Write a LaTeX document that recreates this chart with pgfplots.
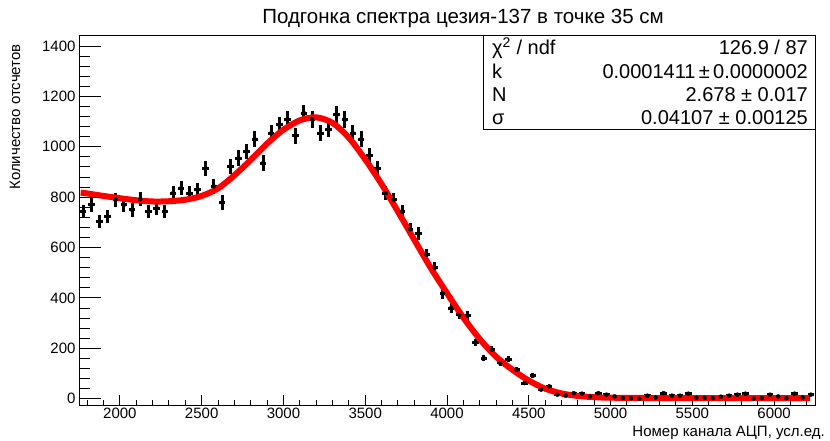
\documentclass[border=0pt]{standalone}
\usepackage{pgfplots}
\pgfplotsset{compat=1.18}
\usepackage{pgfplotstable}
\usepackage{fontspec}
\setmainfont{Liberation Sans}

\pgfplotstableread{
x y ey
1775 743 27.3
1825 770 27.7
1875 704 26.5
1925 723 26.9
1975 790 28.1
2025 770 27.7
2075 750 27.4
2125 792 28.1
2175 743 27.3
2225 757 27.5
2275 743 27.3
2325 816 28.6
2375 836 28.9
2425 816 28.6
2475 829 28.8
2525 915 30.2
2575 843 29.0
2625 779 27.9
2675 922 30.4
2725 955 30.9
2775 981 31.3
2825 1030 32.1
2875 935 30.6
2925 1054 32.5
2975 1087 33.0
3025 1110 33.3
3075 1044 32.3
3125 1134 33.7
3175 1110 33.3
3225 1054 32.5
3275 1070 32.7
3325 1127 33.6
3375 1107 33.3
3425 1054 32.5
3475 1030 32.1
3525 964 31.0
3575 915 30.2
3625 816 28.6
3675 790 28.1
3725 743 27.3
3775 673 25.9
3825 655 25.6
3875 571 23.9
3925 519 22.8
3975 417 20.4
4025 360 19.0
4075 333 18.2
4125 329 18.1
4175 223 14.9
4225 161 12.7
4275 194 13.9
4325 142 11.9
4375 157 12.5
4425 115 10.7
4475 62 7.9
4525 91 9.5
4575 36 6.0
4625 49 7.0
4675 16 4.0
4725 12 3.5
4775 22 4.7
4825 20 4.5
4875 9 3.0
4925 22 4.7
4975 16 4.0
5025 9 3.0
5075 3 1.7
5125 2 1.4
5175 0 0
5225 12 3.5
5275 5 2.2
5325 22 4.7
5375 12 3.5
5425 12 3.5
5475 20 4.5
5525 4 2.0
5575 3 1.7
5625 2 1.4
5675 8 2.8
5725 12 3.5
5775 16 4.0
5825 20 4.5
5875 0 0
5925 2 1.4
5975 16 4.0
6025 9 3.0
6075 2 1.4
6125 20 4.5
6175 5 2.2
6225 16 4.0
}\datatable

\pgfplotstableread{
x y
1760 818
1800 815
1900 805
2000 796
2100 788
2200 783
2300 784
2400 790
2500 805
2600 835
2700 887
2800 948
2900 1013
3000 1068
3100 1105
3200 1117
3300 1095
3400 1036
3500 950
3600 852
3700 743
3800 631
3900 520
4000 419
4100 322
4200 237
4300 167
4400 115
4500 72
4600 40
4700 21
4800 11
4900 6
5000 4
5200 3
5600 2
6000 2
6220 2
}\fittable

\begin{document}
\begin{tikzpicture}
\useasboundingbox (-79pt,-35pt) rectangle (751pt,405pt);
\begin{axis}[
  at={(0,0)}, anchor=south west,
  scale only axis, width=736pt, height=369pt,
  xmin=1750, xmax=6250, ymin=-25, ymax=1440,
  axis line style={line width=1pt},
  tick align=inside, tick pos=left,
  xtick={2000,2500,...,6000},
  minor xtick={1800,1900,...,6200},
  ytick=\empty,
  major tick length=10pt, minor tick length=5pt,
  tick style={black, line width=1pt},
  scaled ticks=false,
  /pgf/number format/assume math mode=true,
  /pgf/number format/1000 sep={},
  ticklabel style={font=\fontsize{15}{18}\selectfont},
  xticklabel style={yshift=1pt},
  clip=true,
]
\addplot[only marks, mark=none,
  error bars/.cd, x dir=both, x fixed=20, y dir=both, y explicit,
  error mark=none, error bar style={line width=3pt, black}]
  table[x=x, y=y, y error=ey] {\datatable};
\addplot[red, line width=6pt, smooth, tension=0.5] table[x=x, y=y] {\fittable};
\end{axis}
\begin{axis}[
  at={(0,0)}, anchor=south west,
  scale only axis, width=736pt, height=369pt,
  xmin=1750, xmax=6250, ymin=-25, ymax=1440,
  axis line style={line width=1pt},
  tick align=inside, tick pos=left,
  xtick=\empty,
  ytick={0,200,...,1400},
  minor ytick={40,80,...,1400},
  major tick length=22pt, minor tick length=11pt,
  tick style={black, line width=1pt},
  scaled ticks=false,
  /pgf/number format/assume math mode=true,
  /pgf/number format/1000 sep={},
  ticklabel style={font=\fontsize{15}{18}\selectfont},
]
\end{axis}
% title and axis labels
\node[anchor=base, inner sep=0, font=\fontsize{20.5}{24}\selectfont] at (384pt,381pt) {Подгонка спектра цезия-137 в точке 35 см};
\node[rotate=90, anchor=east, inner sep=0, font=\fontsize{15}{18}\selectfont] at (-64pt,361pt) {Количество отсчетов};
\node[anchor=base east, inner sep=0, font=\fontsize{15}{18}\selectfont] at (746pt,-31pt) {Номер канала АЦП, усл.ед.};
% stats box
\draw[line width=1pt, fill=white] (404pt,276pt) rectangle (736pt,369pt);
\begin{scope}[every node/.style={inner sep=0, font=\fontsize{20}{24}\selectfont}]
\node[anchor=base west] at (413pt,350pt) {χ\textsuperscript{2} / ndf};
\node[anchor=base east] at (729pt,350pt) {126.9 / 87};
\node[anchor=base west] at (413pt,326.6pt) {k};
\node[anchor=base east] at (729pt,326.6pt) {0.0001411\,±\,0.0000002};
\node[anchor=base west] at (413pt,303.4pt) {N};
\node[anchor=base east] at (729pt,303.4pt) {2.678 ± 0.017};
\node[anchor=base west] at (413pt,280.1pt) {σ};
\node[anchor=base east] at (729pt,280.1pt) {0.04107 ± 0.00125};
\end{scope}
\end{tikzpicture}
\end{document}
